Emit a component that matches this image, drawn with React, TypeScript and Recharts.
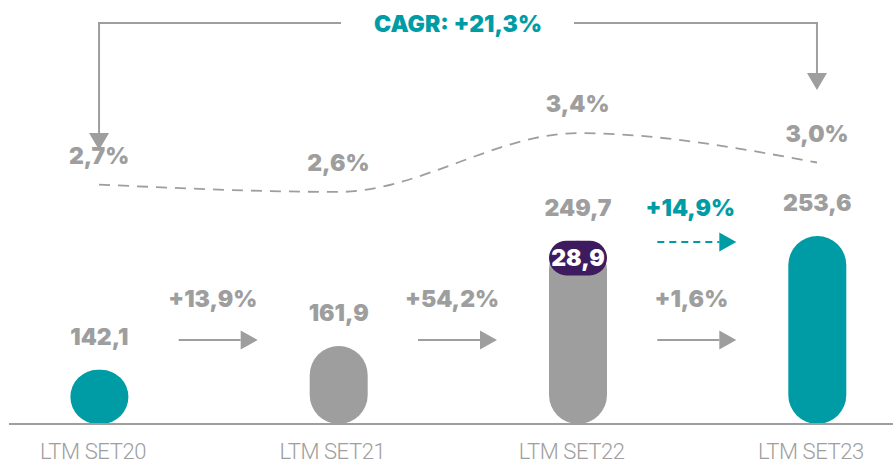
import { ComposedChart, Bar, Line, XAxis, YAxis, Cell, LabelList } from "recharts";

// values as printed on the slide
const categories = ["LTM SET20", "LTM SET21", "LTM SET22", "LTM SET23"];
const revenue = [142.1, 161.9, 249.7, 253.6];
const highlight: (number | null)[] = [null, null, 28.9, null];
const marginPct = [2.7, 2.6, 3.4, 3.0];
const growth = ["+13,9%", "+54,2%", "+1,6%"];
const highlightGrowth = "+14,9%";
const cagrLabel = "CAGR: +21,3%";

const TEAL = "#009ca6";
const GRAY = "#9e9e9e";
const PURPLE = "#3e1a5e";
const barColors = [TEAL, GRAY, GRAY, TEAL];

const W = 893;
const H = 464;
const PLOT_LEFT = 9;
const PLOT_BOTTOM = 424;
const PAD = { left: -29.6, right: -43.6 };
const BAR = 58;

const data = categories.map((name, i) => {
  const h = highlight[i];
  return {
    name,
    revenue: revenue[i],
    cap: h == null ? null : [revenue[i] - h, revenue[i]],
    capValue: h,
    margin: marginPct[i],
  };
});

const fmt = (v: any) => (v == null ? "" : Number(v).toFixed(1).replace(".", ","));

const bold = { fontFamily: "Inter, 'Open Sans', sans-serif", fontWeight: 900, fontSize: 23 };

// category centres, same arithmetic the band scale uses
const band = (W - PLOT_LEFT - PAD.left - PAD.right) / categories.length;
const cx = (i: number) => PLOT_LEFT + PAD.left + band * (i + 0.5);

function Tick(props: any) {
  const { x, y, payload } = props;
  return (
    <text
      x={x - 6}
      y={y}
      dy={35}
      textAnchor="middle"
      fill={GRAY}
      style={{ fontFamily: "Roboto, sans-serif", fontWeight: 300, fontSize: 22, letterSpacing: -0.4 }}
    >
      {payload.value}
    </text>
  );
}

function HArrow({ x1, x2, y, color, dashed }: { x1: number; x2: number; y: number; color: string; dashed?: boolean }) {
  const head = 17;
  return (
    <g>
      <line x1={x1} x2={x2 - head} y1={y} y2={y} stroke={color} strokeWidth={2} strokeDasharray={dashed ? "7 5" : undefined} />
      <polygon points={`${x2 - head},${y - 9.5} ${x2},${y} ${x2 - head},${y + 9.5}`} fill={color} />
    </g>
  );
}

function DownArrow({ x, y1, y2 }: { x: number; y1: number; y2: number }) {
  return (
    <g>
      <line x1={x} x2={x} y1={y1} y2={y2 - 17} stroke={GRAY} strokeWidth={2} />
      <polygon points={`${x - 10},${y2 - 17} ${x + 10},${y2 - 17} ${x},${y2}`} fill={GRAY} />
    </g>
  );
}

function Annotations() {
  const first = cx(0);
  const last = cx(categories.length - 1);
  const mid = (first + last) / 2;
  return (
    <svg width={W} height={H} style={{ position: "absolute", left: 0, top: 0, pointerEvents: "none" }}>
      <line x1={first - 1} x2={mid - 117} y1={23} y2={23} stroke={GRAY} strokeWidth={2} />
      <line x1={mid + 116} x2={last + 1} y1={23} y2={23} stroke={GRAY} strokeWidth={2} />
      <DownArrow x={first} y1={22} y2={150} />
      <DownArrow x={last} y1={22} y2={90} />
      <text x={mid} y={32} textAnchor="middle" fill={TEAL} style={bold}>
        {cagrLabel}
      </text>
      {growth.map((g, i) => {
        const m = (cx(i) + cx(i + 1)) / 2;
        return (
          <g key={g}>
            <text x={m - 6} y={307} textAnchor="middle" fill={GRAY} style={bold}>
              {g}
            </text>
            <HArrow x1={m - 40} x2={m + 39} y={340} color={GRAY} />
          </g>
        );
      })}
      {(() => {
        const m = (cx(2) + cx(3)) / 2;
        return (
          <g>
            <text x={m - 7} y={216} textAnchor="middle" fill={TEAL} style={bold}>
              {highlightGrowth}
            </text>
            <HArrow x1={m - 40} x2={m + 39} y={242} color={TEAL} dashed />
          </g>
        );
      })()}
    </svg>
  );
}

export default function App() {
  return (
    <div style={{ position: "absolute", left: 0, top: 0, width: W, height: H, background: "#fff" }}>
      <ComposedChart
        width={W}
        height={H}
        data={data}
        margin={{ top: 0, right: 0, left: PLOT_LEFT, bottom: 0 }}
      >
        <XAxis
          dataKey="name"
          height={H - PLOT_BOTTOM}
          padding={PAD}
          axisLine={{ stroke: GRAY, strokeWidth: 2 }}
          tickLine={false}
          tickSize={0}
          tickMargin={0}
          tick={<Tick />}
          interval={0}
        />
        <XAxis xAxisId="cap" dataKey="name" padding={PAD} hide />
        <YAxis yAxisId="rev" type="number" domain={[97, 450.3]} allowDataOverflow hide />
        <YAxis yAxisId="pct" type="number" domain={[-0.558, 5.211]} allowDataOverflow hide />
        <Bar dataKey="revenue" yAxisId="rev" barSize={BAR} radius={BAR / 2} isAnimationActive={false}>
          {data.map((d, i) => (
            <Cell key={d.name} fill={barColors[i]} />
          ))}
          <LabelList
            dataKey="revenue"
            position="top"
            offset={25}
            formatter={fmt}
            fill={GRAY}
            style={bold}
          />
        </Bar>
        <Bar dataKey="cap" xAxisId="cap" yAxisId="rev" barSize={BAR} radius={BAR / 2} fill={PURPLE} isAnimationActive={false}>
          <LabelList dataKey="capValue" position="center" formatter={fmt} fill="#fff" style={bold} />
        </Bar>
        <Line
          dataKey="margin"
          yAxisId="pct"
          type="monotone"
          stroke={GRAY}
          strokeWidth={1.8}
          strokeDasharray="11 8"
          dot={false}
          activeDot={false}
          isAnimationActive={false}
        >
          <LabelList
            dataKey="margin"
            position="top"
            offset={21}
            formatter={(v: any) => fmt(v) + "%"}
            fill={GRAY}
            style={bold}
          />
        </Line>
      </ComposedChart>
      <Annotations />
    </div>
  );
}
